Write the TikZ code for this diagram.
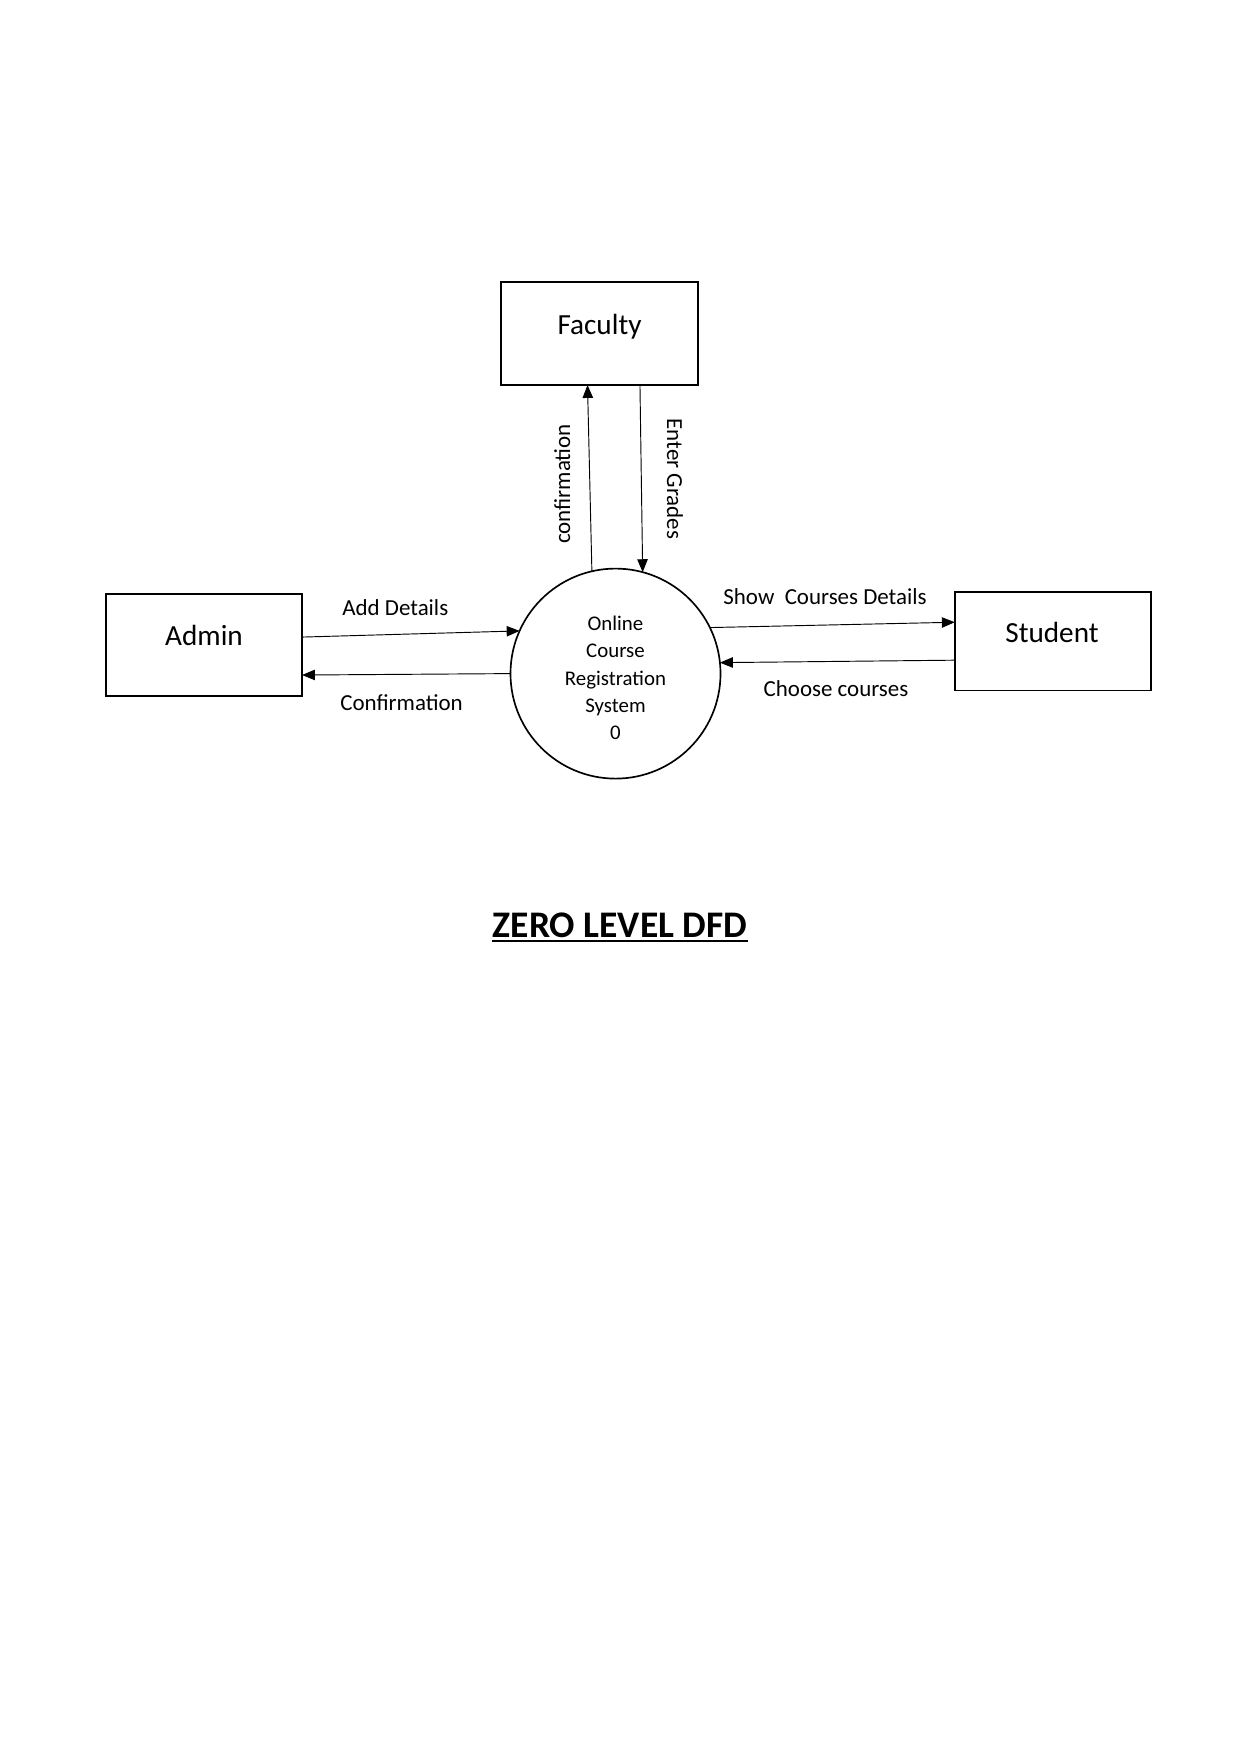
\documentclass[tikz,border=0pt]{standalone}
\usepackage{fontspec}
\setmainfont{Carlito}
\usetikzlibrary{arrows.meta}
\begin{document}
\begin{tikzpicture}[x=0.4795pt,y=-0.4795pt,
  entity/.style={draw,line width=0.8pt,inner sep=0pt,outer sep=0pt},
  enttext/.style={font=\fontsize{14}{16}\selectfont,anchor=base,inner sep=0pt},
  proc/.style={draw,circle,line width=0.8pt,inner sep=0pt,outer sep=0pt,minimum size=100.7pt},
  proctext/.style={align=center,inner sep=0pt,font=\fontsize{10}{13.1}\selectfont},
  flow/.style={line width=0.45pt,-{Triangle[length=6.2pt,width=5pt]}},
  flowlbl/.style={font=\fontsize{11}{13}\selectfont,anchor=base,inner sep=0pt}]
\useasboundingbox (0,0) rectangle (1241,1755);
% entities
\node[entity,minimum width=94.5pt,minimum height=49.4pt] (fac) at (599.5,333.5) {};
\node[entity,minimum width=94pt,minimum height=48.9pt] (adm) at (204,645) {};
\node[entity,minimum width=94.2pt,minimum height=47.2pt] (stu) at (1053,641.2) {};
\node[enttext] (factxt) at (599.5,334) {Faculty};
\node[enttext] (admtxt) at (204,645) {Admin};
\node[enttext] (stutxt) at (1052,642) {Student};
% process
\node[proc] (p) at (615.5,673.6) {};
\node[proctext] (ptxt) at (615.5,678) {Online\\Course\\Registration\\System\\0};
% flows
\draw[flow] ([yshift=3.8pt]adm.east) -- (p.156.7);
\draw[flow] (p.180) -- ([yshift=-14.4pt]adm.east);
\draw[flow] (p.26.8) -- ([yshift=9.1pt]stu.west);
\draw[flow] ([yshift=-9.1pt]stu.west) -- (p.6.2);
\draw[flow] (p.103.4) -- ([xshift=-5.75pt]fac.south);
\draw[flow] ([xshift=19.4pt]fac.south) -- (p.75.5);
% flow labels
\node[flowlbl] (l1) at (395.3,615) {Add Details};
\node[flowlbl] (l2) at (401.5,710) {Confirmation};
\node[flowlbl] (l3) at (825,604) {Show\ \ Courses Details};
\node[flowlbl] (l4) at (836,696.5) {Choose courses};
\node[flowlbl,rotate=90] (l5) at (570,484) {confirmation};
\node[flowlbl,rotate=-90] (l6) at (667,479) {Enter Grades};
% title
\node[font=\fontsize{18}{21}\selectfont\bfseries,anchor=base,inner sep=0pt] (title) at (620,937) {ZERO LEVEL DFD};
\draw[line width=0.9pt] ([yshift=-2pt]title.base west) -- ([yshift=-2pt]title.base east);
\end{tikzpicture}
\end{document}
